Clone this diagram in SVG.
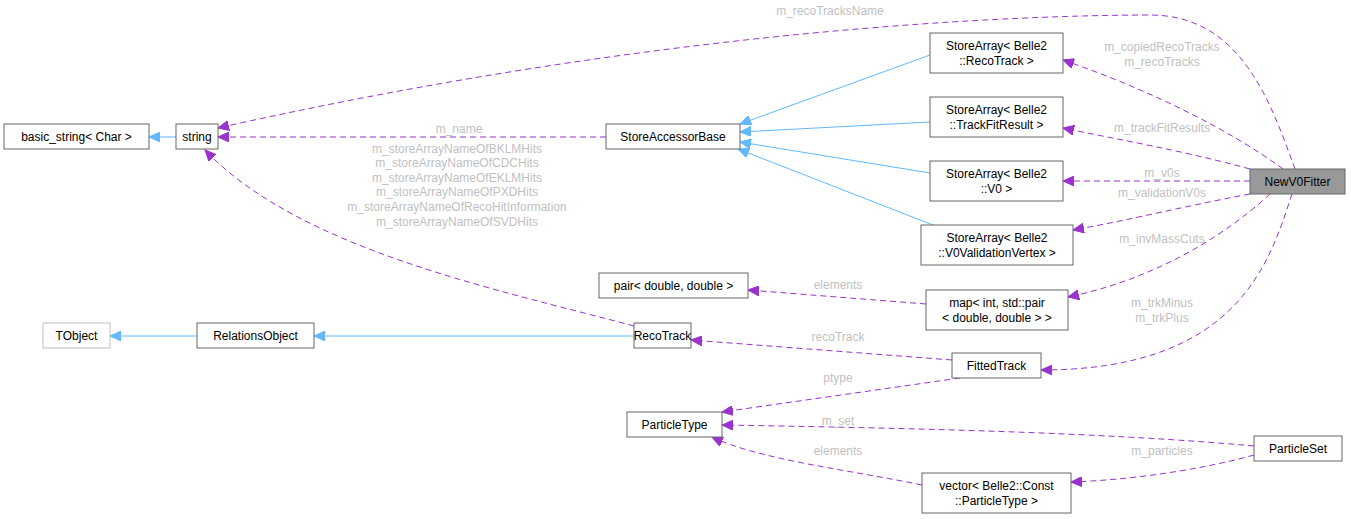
<svg xmlns="http://www.w3.org/2000/svg" width="1351" height="519" viewBox="0 0 1351 519">
<defs>
<marker id="ab" markerWidth="12" markerHeight="10" refX="11" refY="5" orient="auto" markerUnits="userSpaceOnUse"><path d="M0,0 L11,5 L0,10 Z" fill="#63b8ff" stroke="#63b8ff"/></marker>
<marker id="ap" markerWidth="12" markerHeight="10" refX="11" refY="5" orient="auto" markerUnits="userSpaceOnUse"><path d="M0,0 L11,5 L0,10 Z" fill="#9a32cd" stroke="#9a32cd"/></marker>
</defs>
<style>
.n rect{fill:#fff;stroke:#666;stroke-width:1}
.n text{font-family:"Liberation Sans",Arial,sans-serif;font-size:12px;fill:#000;text-anchor:middle}
.b{fill:none;stroke:#63b8ff;stroke-width:1;marker-end:url(#ab)}
.p{fill:none;stroke:#9a32cd;stroke-width:1;stroke-dasharray:6,4;marker-end:url(#ap)}
.l{font-family:"Liberation Sans",Arial,sans-serif;font-size:12px;fill:#bfbfbf;text-anchor:middle}
</style>
<rect width="1351" height="519" fill="#fff"/>
<g id="edges">
<path class="b" d="M176,137 L149,137"/>
<path class="p" d="M606,137 L218,137"/>
<path class="b" d="M930,55 L740,124"/>
<path class="b" d="M930,122 L740,132"/>
<path class="b" d="M930,173 L740,142"/>
<path class="b" d="M933,225 L738,149"/>
<path class="p" d="M1295,169 C1270,100 1240,15 1150,15 C1070,15 700,20 218,128"/>
<path class="p" d="M634,326 C500,290 300,250 205,150"/>
<path class="p" d="M1283,169 C1230,130 1150,90 1063,60"/>
<path class="p" d="M1250,169 C1180,150 1120,140 1063,128"/>
<path class="p" d="M1250,181 L1063,181"/>
<path class="p" d="M1250,194 C1190,205 1130,220 1073,230"/>
<path class="p" d="M1270,194 C1220,240 1150,280 1068,297"/>
<path class="p" d="M1292,194 C1270,260 1240,370 1041,370"/>
<path class="p" d="M926,304 L748,290"/>
<path class="p" d="M952,360 L691,340"/>
<path class="b" d="M634,336 L314,336"/>
<path class="b" d="M197,336 L110,336"/>
<path class="p" d="M960,378 L722,412"/>
<path class="p" d="M1254,446 C1100,432 900,428 722,425"/>
<path class="p" d="M922,485 C850,470 760,460 712,437"/>
<path class="p" d="M1254,455 C1200,470 1130,480 1071,482"/>
<text class="l" x="830" y="15">m_recoTracksName</text>
<text class="l" x="459" y="133">m_name</text>
<text class="l" x="457" y="153">m_storeArrayNameOfBKLMHits</text>
<text class="l" x="457" y="167">m_storeArrayNameOfCDCHits</text>
<text class="l" x="457" y="182">m_storeArrayNameOfEKLMHits</text>
<text class="l" x="457" y="196">m_storeArrayNameOfPXDHits</text>
<text class="l" x="457" y="211">m_storeArrayNameOfRecoHitInformation</text>
<text class="l" x="457" y="226">m_storeArrayNameOfSVDHits</text>
<text class="l" x="1162" y="51">m_copiedRecoTracks</text>
<text class="l" x="1162" y="66">m_recoTracks</text>
<text class="l" x="1162" y="132">m_trackFitResults</text>
<text class="l" x="1162" y="177">m_v0s</text>
<text class="l" x="1162" y="197">m_validationV0s</text>
<text class="l" x="1162" y="243">m_invMassCuts</text>
<text class="l" x="1162" y="307">m_trkMinus</text>
<text class="l" x="1162" y="322">m_trkPlus</text>
<text class="l" x="838" y="289">elements</text>
<text class="l" x="838" y="341">recoTrack</text>
<text class="l" x="838" y="382">ptype</text>
<text class="l" x="838" y="425">m_set</text>
<text class="l" x="838" y="455">elements</text>
<text class="l" x="1162" y="455">m_particles</text>
</g>
<g id="basic_string" class="n"><rect x="4" y="124" width="145" height="25"/><text x="76.5" y="141">basic_string&lt; Char &gt;</text></g>
<g id="string" class="n"><rect x="176" y="124" width="42" height="25"/><text x="197" y="141">string</text></g>
<g id="StoreAccessorBase" class="n"><rect x="606" y="124" width="134" height="25"/><text x="673" y="141">StoreAccessorBase</text></g>
<g id="SA_RecoTrack" class="n"><rect x="930" y="33" width="133" height="40"/><text x="996.5" y="50">StoreArray&lt; Belle2</text><text x="996.5" y="65">::RecoTrack &gt;</text></g>
<g id="SA_TrackFitResult" class="n"><rect x="930" y="97" width="133" height="40"/><text x="996.5" y="114">StoreArray&lt; Belle2</text><text x="996.5" y="129">::TrackFitResult &gt;</text></g>
<g id="SA_V0" class="n"><rect x="930" y="161" width="133" height="40"/><text x="996.5" y="178">StoreArray&lt; Belle2</text><text x="996.5" y="193">::V0 &gt;</text></g>
<g id="SA_V0VV" class="n"><rect x="921" y="225" width="152" height="40"/><text x="997" y="242">StoreArray&lt; Belle2</text><text x="997" y="257">::V0ValidationVertex &gt;</text></g>
<g id="NewV0Fitter" class="n"><rect x="1250" y="169" width="95" height="25" style="fill:#999"/><text x="1297.5" y="186">NewV0Fitter</text></g>
<g id="pair" class="n"><rect x="599" y="273" width="149" height="25"/><text x="673.5" y="290">pair&lt; double, double &gt;</text></g>
<g id="map" class="n"><rect x="926" y="290" width="142" height="40"/><text x="997" y="307">map&lt; int, std::pair</text><text x="997" y="322">&lt; double, double &gt; &gt;</text></g>
<g id="TObject" class="n"><rect x="43" y="323" width="67" height="25" style="stroke:#bfbfbf"/><text x="76.5" y="340">TObject</text></g>
<g id="RelationsObject" class="n"><rect x="197" y="323" width="117" height="25"/><text x="255.5" y="340">RelationsObject</text></g>
<g id="RecoTrack" class="n"><rect x="634" y="323" width="57" height="25"/><text x="662.5" y="340">RecoTrack</text></g>
<g id="FittedTrack" class="n"><rect x="952" y="353" width="89" height="25"/><text x="996.5" y="370">FittedTrack</text></g>
<g id="ParticleType" class="n"><rect x="627" y="412" width="95" height="25"/><text x="674.5" y="429">ParticleType</text></g>
<g id="ParticleSet" class="n"><rect x="1254" y="436" width="88" height="25"/><text x="1298" y="453">ParticleSet</text></g>
<g id="vector" class="n"><rect x="922" y="473" width="149" height="40"/><text x="996.5" y="490">vector&lt; Belle2::Const</text><text x="996.5" y="505">::ParticleType &gt;</text></g>
</svg>
